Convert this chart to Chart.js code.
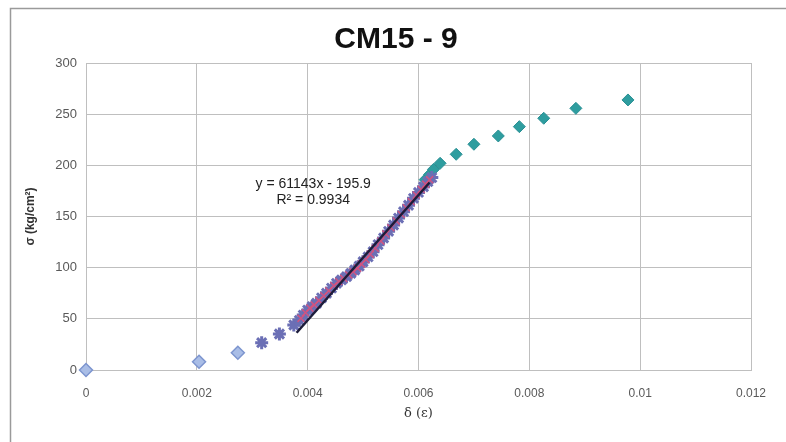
<!DOCTYPE html>
<html>
<head>
<meta charset="utf-8">
<script src="https://cdn.jsdelivr.net/npm/chart.js@4/dist/chart.umd.min.js"></script>
<style>
  html, body { margin: 0; padding: 0; background: #fff; }
  #wrap { width: 786px; height: 442px; }
</style>
</head>
<body>
<div id="wrap"><canvas id="cmChart" width="786" height="442"></canvas></div>
<script>
// early points (light blue diamonds)
const startX = [0, 0.00204, 0.00274];
const startY = [0, 8.1, 16.9];

// main loading branch (purple stars)
const starX = [0.00317, 0.00349, 0.00375, 0.00385, 0.00392, 0.00400, 0.00408, 0.00416, 0.00425, 0.00434,
               0.00443, 0.00452, 0.00461, 0.00470, 0.00478, 0.00485, 0.00493, 0.00500, 0.00509, 0.00518,
               0.00527, 0.00537, 0.00546, 0.00555, 0.00564, 0.00573, 0.00582, 0.00591, 0.00600, 0.00609,
               0.00617, 0.00624];
const starY = [26.7, 35.2, 44.0, 48.5, 53.7, 58.5, 62.0, 65.2, 70.5, 75.0,
               80.0, 84.7, 88.0, 91.2, 94.5, 97.7, 101.5, 105.8, 110.5, 115.6,
               122.5, 129.0, 135.5, 141.7, 148.5, 154.7, 161.0, 167.8, 173.5, 179.0,
               184.0, 188.0];

// fitted subset (pink x)
const fitX = [0.00388, 0.00396, 0.00404, 0.00412, 0.00420, 0.00429, 0.00438, 0.00447, 0.00456, 0.00465,
              0.00474, 0.00482, 0.00490, 0.00497, 0.00505, 0.00513, 0.00522, 0.00532, 0.00541, 0.00550,
              0.00560, 0.00569, 0.00578, 0.00587, 0.00596, 0.00605, 0.00613, 0.00620];
const fitY = [50.5, 56.0, 60.5, 63.5, 68.0, 72.5, 77.5, 82.5, 86.5, 89.5,
              93.0, 96.0, 99.5, 103.5, 108.0, 113.0, 119.0, 126.0, 133.0, 139.0,
              145.5, 152.0, 158.5, 164.5, 171.0, 176.5, 181.5, 186.0];

// upper branch (teal diamonds)
const topX = [0.00612, 0.00620, 0.00627, 0.00639, 0.00668, 0.00700, 0.00744, 0.00782, 0.00826, 0.00884, 0.00978];
const topY = [186, 191, 196, 202, 210.8, 220.6, 228.7, 237.8, 246, 255.7, 263.9];

// linear trendline shown on the chart
const trendSlope = 61143;
const trendIntercept = -195.9;
const trendX = [0.0038, 0.0062];
const trendLabel = ['y = 61143x - 195.9', 'R\u00b2 = 0.9934'];
const chartTitle = 'CM15 - 9';

const xTicks = [0, 0.002, 0.004, 0.006, 0.008, 0.01, 0.012];
const yTicks = [0, 50, 100, 150, 200, 250, 300];

function pts(xs, ys) {
    return xs.map((x, i) => ({ x: x, y: ys[i] }));
}

const frame = {
    id: 'frame',
    beforeDraw(chart) {
        const ctx = chart.ctx;
        ctx.save();
        ctx.strokeStyle = '#9a9a9a';
        ctx.lineWidth = 1.5;
        ctx.strokeRect(10.5, 8.5, 900, 600);
        // title
        ctx.font = 'bold 30px "Liberation Sans", Arial, sans-serif';
        ctx.fillStyle = '#111';
        ctx.textAlign = 'center';
        ctx.textBaseline = 'middle';
        ctx.fillText(chartTitle, 396, 40);
        ctx.restore();
    }
};

const eqLabel = {
    id: 'eqLabel',
    afterDatasetsDraw(chart) {
        const ctx = chart.ctx;
        const sx = chart.scales.x, sy = chart.scales.y;
        ctx.save();
        ctx.font = '14px "Liberation Sans", Arial, sans-serif';
        ctx.fillStyle = '#222';
        ctx.textAlign = 'center';
        ctx.textBaseline = 'middle';
        ctx.fillText(trendLabel[0], sx.getPixelForValue(0.0041), sy.getPixelForValue(182));
        ctx.fillText(trendLabel[1], sx.getPixelForValue(0.0041), sy.getPixelForValue(165.5));
        ctx.restore();
    }
};

const ctx = document.getElementById('cmChart').getContext('2d');
const chart = new Chart(ctx, {
    type: 'scatter',
    data: {
        datasets: [
            {
                label: 'trend',
                type: 'line',
                data: trendX.map(x => ({ x: x, y: trendSlope * x + trendIntercept })),
                borderColor: '#1c1c3a',
                borderWidth: 2.5,
                pointRadius: 0,
                order: 1
            },
            {
                label: 'fit',
                data: pts(fitX, fitY),
                pointStyle: 'crossRot',
                pointRadius: 5,
                borderColor: 'rgba(225, 80, 120, 0.85)',
                borderWidth: 1.5,
                order: 2
            },
            {
                label: 'stars',
                data: pts(starX, starY),
                pointStyle: 'star',
                pointRadius: 6.5,
                borderColor: '#6b6fb5',
                backgroundColor: '#6b6fb5',
                borderWidth: 3,
                order: 3
            },
            {
                label: 'start',
                data: pts(startX, startY),
                pointStyle: 'rectRot',
                pointRadius: 6.5,
                backgroundColor: '#a9bde6',
                borderColor: '#7d95cf',
                borderWidth: 1.5,
                order: 4
            },
            {
                label: 'upper',
                data: pts(topX, topY),
                pointStyle: 'rectRot',
                pointRadius: 6,
                backgroundColor: '#2e9d9f',
                borderColor: '#2a8f94',
                borderWidth: 1,
                order: 5
            }
        ]
    },
    options: {
        responsive: false,
        animation: false,
        clip: false,
        layout: { padding: { left: 10, right: 35, top: 63, bottom: 0 } },
        plugins: {
            legend: { display: false },
            tooltip: { enabled: false },
            title: { display: false }
        },
        scales: {
            x: {
                type: 'linear',
                min: 0,
                max: 0.012,
                afterBuildTicks(scale) { scale.ticks = xTicks.map(v => ({ value: v })); },
                afterFit(scale) { scale.height = 72; },
                grid: { color: '#bfbfbf', lineWidth: 1, drawTicks: false },
                border: { color: '#bfbfbf' },
                ticks: {
                    padding: 16,
                    color: '#595959',
                    font: { family: '"Liberation Sans", Arial, sans-serif', size: 12 },
                    callback: v => String(v)
                },
                title: {
                    display: true,
                    text: '\u03b4 (\u03b5)',
                    color: '#333',
                    font: { family: '"DejaVu Serif", serif', size: 13 },
                    padding: { top: 0, bottom: 21 }
                }
            },
            y: {
                type: 'linear',
                min: 0,
                max: 300,
                afterBuildTicks(scale) { scale.ticks = yTicks.map(v => ({ value: v })); },
                afterFit(scale) { scale.width = 76; },
                grid: { color: '#bfbfbf', lineWidth: 1, drawTicks: false },
                border: { color: '#bfbfbf' },
                ticks: {
                    padding: 9,
                    color: '#595959',
                    font: { family: '"Liberation Sans", Arial, sans-serif', size: 13 }
                },
                title: {
                    display: true,
                    text: '\u03c3 (kg/cm\u00b2)',
                    color: '#333',
                    font: { family: '"Liberation Sans", Arial, sans-serif', size: 12, weight: 'bold' },
                    padding: { top: 13, bottom: 0 }
                }
            }
        }
    },
    plugins: [frame, eqLabel]
});
</script>
</body>
</html>
